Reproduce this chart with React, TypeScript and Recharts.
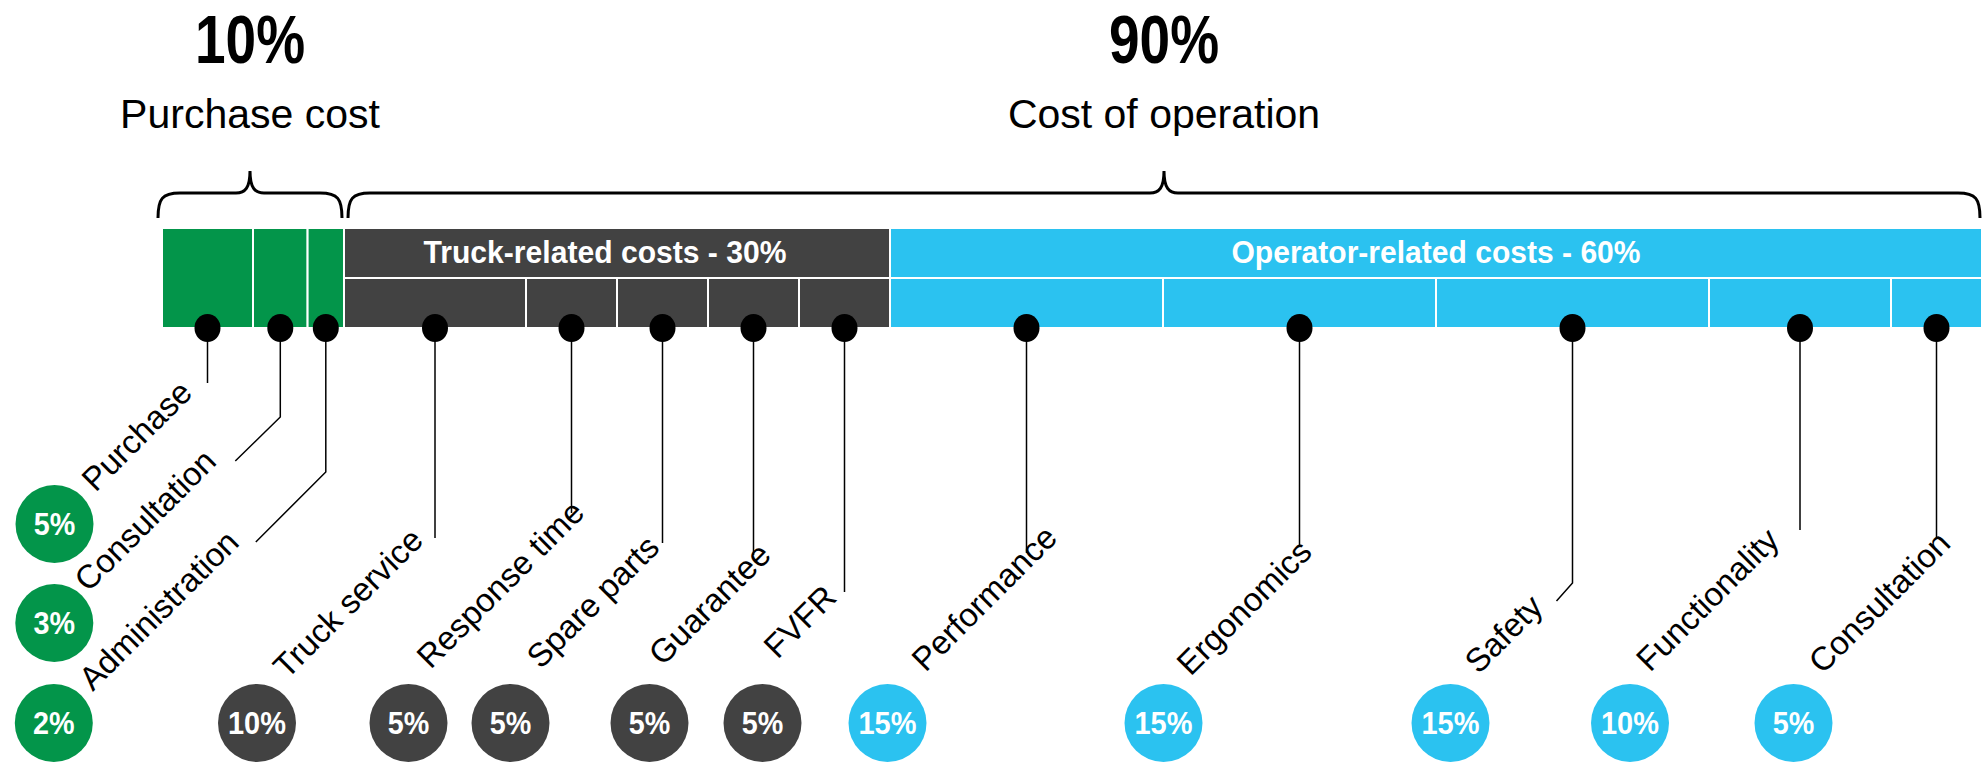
import React from 'react';
import { BarChart, Bar, XAxis, YAxis } from 'recharts';

// top level split of the total cost of ownership
const phaseNames = ['Purchase cost', 'Cost of operation'];
const phaseShares = [10, 90];

// middle row: cost groups
const groupNames = ['Purchase', 'Truck-related costs', 'Operator-related costs'];
const groupShares = [10, 30, 60];

// bottom row: single cost items
const itemNames = [
  'Purchase', 'Consultation', 'Administration',
  'Truck service', 'Response time', 'Spare parts', 'Guarantee', 'FVFR',
  'Performance', 'Ergonomics', 'Safety', 'Functionality', 'Consultation',
];
const itemShares = [5, 3, 2, 10, 5, 5, 5, 5, 15, 15, 15, 10, 5];
const itemGroup = [0, 0, 0, 1, 1, 1, 1, 1, 2, 2, 2, 2, 2];

const COLORS = ['#03954A', '#424242', '#2BC2F0'];
const FONT = "'Liberation Sans', Arial, sans-serif";
const NARROW = "'Liberation Sans Narrow', 'Arial Narrow', 'Liberation Sans', sans-serif";

// annotation layout, relative to the dot under each item (dx, dy)
// badge = percentage circle, label = start of rotated text, drop/elbow = connector
const LAYOUT = [
  { badge: [-153, 196], label: [-112, 165], drop: 55 },
  { badge: [-226, 295], label: [-192, 265], drop: 89, elbow: [-45, 44] },
  { badge: [-272, 395], label: [-233, 364], drop: 144, elbow: [-70, 70] },
  { badge: [-178, 395], label: [-148, 352], drop: 210 },
  { badge: [-163, 395], label: [-141, 342], drop: 185 },
  { badge: [-152, 395], label: [-122, 342], drop: 215 },
  { badge: [-104, 395], label: [-91, 339], drop: 227 },
  { badge: [-82, 395], label: [-67, 332], drop: 264 },
  { badge: [-139, 395], label: [-101, 345], drop: 225 },
  { badge: [-136, 395], label: [-109, 349], drop: 218 },
  { badge: [-122, 395], label: [-94, 347], drop: 255, elbow: [-16, 18] },
  { badge: [-170, 395], label: [-150, 345], drop: 202 },
  { badge: [-143, 395], label: [-114, 347], drop: 210 },
];

const row: Record<string, string | number> = { name: 'TCO' };
phaseShares.forEach((v, i) => (row[`phase${i}`] = v));
groupShares.forEach((v, i) => (row[`group${i}`] = v));
itemShares.forEach((v, i) => (row[`item${i}`] = v));
const data = [row];

const badgeWidth = (s: string) => s.replace('%', '').length * 16.5 + 25;
const groupLabelWidth = [0, 363, 409];

const PhaseShape = (props: any) => {
  const { x, y, width, i } = props;
  const x1 = i === 0 ? x - 4 : x + 4;
  const x2 = x + width - 2;
  const xm = (x1 + x2) / 2;
  const yEnd = y + 40;
  const yH = y + 15;
  const yTop = y - 7;
  const d = `M${x1},${yEnd} C${x1},${yH + 6} ${x1 + 4},${yH} ${x1 + 22},${yH}
    L${xm - 14},${yH} C${xm - 5},${yH} ${xm},${yH - 5} ${xm},${yTop}
    C${xm},${yH - 5} ${xm + 5},${yH} ${xm + 14},${yH}
    L${x2 - 22},${yH} C${x2 - 4},${yH} ${x2},${yH + 6} ${x2},${yEnd}`;
  return (
    <g>
      <path d={d} fill="none" stroke="#000" strokeWidth={3} />
      <text x={xm} y={y - 115} textAnchor="middle" fontFamily={NARROW} fontWeight="bold"
        fontSize={68} textLength={110} lengthAdjust="spacingAndGlyphs" fill="#000">
        {`${phaseShares[i]}%`}
      </text>
      <text x={xm} y={y - 50} textAnchor="middle" fontFamily={FONT} fontSize={41} fill="#000">
        {phaseNames[i]}
      </text>
    </g>
  );
};

const GroupShape = (props: any) => {
  const { x, y, width, height, i } = props;
  if (i === 0) return <g />;
  return (
    <g>
      <rect x={x} y={y} width={width} height={height} fill={COLORS[i]} stroke="#fff" strokeWidth={2} />
      <text x={x + width / 2 - (i === 1 ? 12 : 0)} y={y + 35} textAnchor="middle" fontFamily={NARROW}
        fontWeight="bold" fontSize={32} textLength={groupLabelWidth[i]} lengthAdjust="spacingAndGlyphs" fill="#fff">
        {`${groupNames[i]} - ${groupShares[i]}%`}
      </text>
    </g>
  );
};

const ItemShape = (props: any) => {
  const { x, y, width, height, i } = props;
  const g = itemGroup[i];
  const color = COLORS[g];
  const top = g === 0 ? y - height : y;
  const h = g === 0 ? height * 2 : height;
  const cx = x + width / 2;
  const cy = y + height;
  const lay = LAYOUT[i];
  const lineEndY = cy + lay.drop;
  const pts = [`${cx},${cy}`, `${cx},${lineEndY}`];
  if (lay.elbow) pts.push(`${cx + lay.elbow[0]},${lineEndY + lay.elbow[1]}`);
  const bx = cx + lay.badge[0];
  const by = cy + lay.badge[1];
  const lx = cx + lay.label[0];
  const ly = cy + lay.label[1];
  const pct = `${itemShares[i]}%`;
  return (
    <g>
      <rect x={x} y={top} width={width} height={h} fill={color} stroke="#fff" strokeWidth={2} />
      <polyline points={pts.join(' ')} fill="none" stroke="#000" strokeWidth={1.5} />
      <ellipse cx={cx} cy={cy} rx={13} ry={14} fill="#000" />
      <circle cx={bx} cy={by} r={39} fill={color} />
      <text x={bx} y={by + 11} textAnchor="middle" fontFamily={NARROW} fontWeight="bold" fontSize={32}
        textLength={badgeWidth(pct)} lengthAdjust="spacingAndGlyphs" fill="#fff">
        {pct}
      </text>
      <text x={lx} y={ly} transform={`rotate(-45 ${lx} ${ly})`} fontFamily={FONT} fontSize={33} fill="#000">
        {itemNames[i]}
      </text>
    </g>
  );
};

export default function App() {
  return (
    <div style={{ position: 'absolute', left: 0, top: 0, background: '#fff' }}>
      <BarChart
        width={1982}
        height={765}
        data={data}
        layout="vertical"
        barCategoryGap={0}
        barGap={0}
        margin={{ top: 178, right: 0, bottom: 437, left: 162 }}
      >
        <XAxis type="number" domain={[0, 100]} hide />
        <YAxis type="category" dataKey="name" hide />
        {phaseShares.map((_, i) => (
          <Bar key={`phase${i}`} dataKey={`phase${i}`} stackId="phase" isAnimationActive={false}
            shape={(p: any) => <PhaseShape {...p} i={i} />} />
        ))}
        {groupShares.map((_, i) => (
          <Bar key={`group${i}`} dataKey={`group${i}`} stackId="group" isAnimationActive={false}
            shape={(p: any) => <GroupShape {...p} i={i} />} />
        ))}
        {itemShares.map((_, i) => (
          <Bar key={`item${i}`} dataKey={`item${i}`} stackId="item" isAnimationActive={false}
            shape={(p: any) => <ItemShape {...p} i={i} />} />
        ))}
      </BarChart>
    </div>
  );
}
